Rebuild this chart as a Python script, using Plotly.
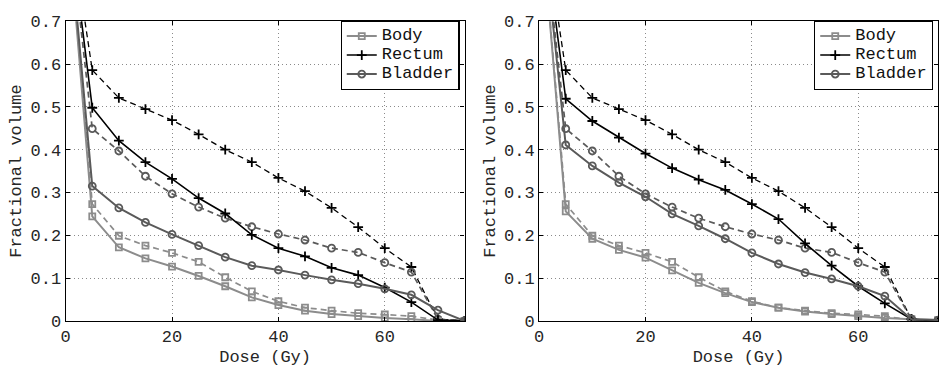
import plotly.graph_objects as go

# ---------------- data ----------------
dose = [0, 5, 10, 15, 20, 25, 30, 35, 40, 45, 50, 55, 60, 65, 70, 75]

# dashed (reference plan) curves, identical in both panels
body_ref = [1.0, 0.273, 0.199, 0.176, 0.159, 0.138, 0.102, 0.069, 0.046, 0.031, 0.024, 0.018, 0.015, 0.011, 0.002, 0.0]
rectum_ref = [1.0, 0.586, 0.521, 0.495, 0.469, 0.436, 0.400, 0.371, 0.334, 0.303, 0.264, 0.219, 0.170, 0.126, 0.004, 0.0]
bladder_ref = [1.0, 0.449, 0.397, 0.338, 0.297, 0.266, 0.240, 0.220, 0.203, 0.189, 0.170, 0.160, 0.136, 0.114, 0.004, 0.0]

# left panel solid curves
body_1 = [1.0, 0.244, 0.172, 0.146, 0.127, 0.105, 0.081, 0.055, 0.037, 0.024, 0.016, 0.011, 0.007, 0.004, 0.0, 0.0]
rectum_1 = [1.0, 0.498, 0.421, 0.371, 0.332, 0.287, 0.251, 0.201, 0.170, 0.151, 0.124, 0.107, 0.078, 0.044, 0.002, 0.0]
bladder_1 = [1.0, 0.315, 0.264, 0.230, 0.202, 0.176, 0.149, 0.129, 0.119, 0.107, 0.096, 0.087, 0.075, 0.061, 0.025, 0.0]

# right panel solid curves
body_2 = [1.0, 0.256, 0.192, 0.166, 0.148, 0.118, 0.089, 0.065, 0.044, 0.031, 0.022, 0.016, 0.011, 0.007, 0.004, 0.002]
rectum_2 = [1.0, 0.519, 0.467, 0.428, 0.391, 0.357, 0.330, 0.306, 0.273, 0.238, 0.181, 0.129, 0.081, 0.041, 0.004, 0.0]
bladder_2 = [1.0, 0.411, 0.362, 0.323, 0.290, 0.250, 0.222, 0.192, 0.159, 0.133, 0.113, 0.098, 0.081, 0.058, 0.004, 0.002]

names = ["Body", "Rectum", "Bladder"]
x_ticks = [0, 20, 40, 60]
y_ticks = [0, 0.1, 0.2, 0.3, 0.4, 0.5, 0.6, 0.7]
y_ticktext = ["0", "0.1", "0.2", "0.3", "0.4", "0.5", "0.6", "0.7"]

# ---------------- styles ----------------
FONT = "'Liberation Mono', 'Courier New', Courier, monospace"
TXT = "#262626"
styles = {
    "Body": dict(color="#8c8c8c", symbol="square-open", size=6, width=2),
    "Rectum": dict(color="#000000", symbol="cross-thin-open", size=7, width=1.6),
    "Bladder": dict(color="#5a5a5a", symbol="circle-open", size=7, width=2),
}

fig = go.Figure()

panels = [
    ("x", "y", "legend", [body_1, rectum_1, bladder_1]),
    ("x2", "y2", "legend2", [body_2, rectum_2, bladder_2]),
]
refs = [body_ref, rectum_ref, bladder_ref]

for xa, ya, leg, solids in panels:
    for name, vals in zip(names, refs):
        s = styles[name]
        fig.add_trace(go.Scatter(
            x=dose, y=vals, mode="lines+markers", xaxis=xa, yaxis=ya,
            line=dict(color=s["color"], width=s["width"] - 0.3, dash="6px,4px"),
            marker=dict(symbol=s["symbol"], size=s["size"], color=s["color"],
                        line=dict(color=s["color"], width=1.8)),
            showlegend=False, legend=leg, hoverinfo="skip",
        ))
    for name, vals in zip(names, solids):
        s = styles[name]
        fig.add_trace(go.Scatter(
            x=dose, y=vals, mode="lines+markers", xaxis=xa, yaxis=ya,
            name="<span style='font-size:17px'>%s</span>" % name,
            line=dict(color=s["color"], width=s["width"]),
            marker=dict(symbol=s["symbol"], size=s["size"], color=s["color"],
                        line=dict(color=s["color"], width=1.8)),
            showlegend=True, legend=leg,
        ))

W, H = 940, 367
y_dom = [(H - 330) / H, (H - 14) / H]

axis_common = dict(
    showline=True, linecolor="black", linewidth=1.2, mirror="ticks",
    ticks="inside", ticklen=4, tickcolor="black", tickwidth=1,
    showgrid=True, gridcolor="#8a8a8a", griddash="1px,3px", gridwidth=1,
    zeroline=False, tickfont=dict(family=FONT, size=17, color=TXT),
)

xcommon = dict(axis_common, range=[0, 75], tickvals=x_ticks,
               title=dict(text="Dose (Gy)", font=dict(family=FONT, size=17, color=TXT), standoff=5))
ycommon = dict(axis_common, range=[0, 0.7], tickvals=y_ticks, ticktext=y_ticktext,
               title=dict(text="Fractional volume", font=dict(family=FONT, size=17, color=TXT), standoff=4))

legend_common = dict(
    bgcolor="white", bordercolor="black", borderwidth=1.2,
    font=dict(family=FONT, size=10, color="#111"),
    xanchor="right", yanchor="top", tracegroupgap=0,
)

fig.update_layout(
    width=W, height=H,
    margin=dict(l=0, r=0, t=0, b=0),
    paper_bgcolor="white", plot_bgcolor="white",
    xaxis=dict(xcommon, domain=[61 / W, 462 / W], anchor="y"),
    yaxis=dict(ycommon, domain=y_dom, anchor="x"),
    xaxis2=dict(xcommon, domain=[537 / W, 938 / W], anchor="y2"),
    yaxis2=dict(ycommon, domain=y_dom, anchor="x2"),
    legend=dict(legend_common, x=457 / W, y=(H - 13) / H),
    legend2=dict(legend_common, x=933 / W, y=(H - 13) / H),
    showlegend=True,
)

fig.write_html("out.html")
